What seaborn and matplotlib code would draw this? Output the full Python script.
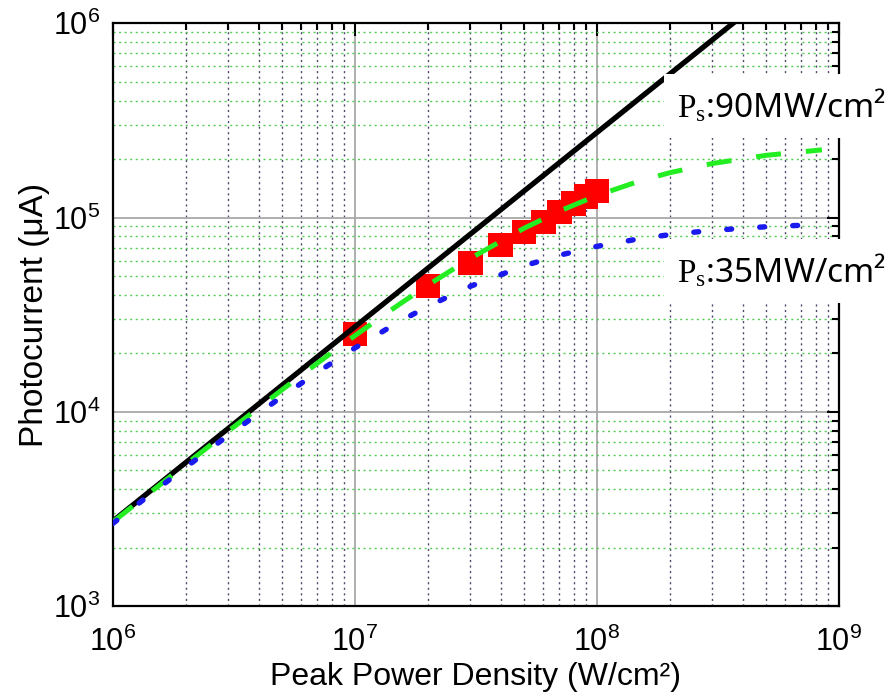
import numpy as np
import pandas as pd
import matplotlib
matplotlib.use("Agg")
import matplotlib.pyplot as plt
import matplotlib.ticker as mticker
import seaborn as sns

# ---- data ----
power_lin = [1e6, 1e9]
current_lin = [2740, 2.74e6]

power_model = [1e6, 1.5e6, 2e6, 3e6, 5e6, 7e6, 1e7, 1.5e7, 2e7, 3e7, 5e7, 7e7,
               1e8, 1.5e8, 2e8, 3e8, 5e8, 8.5e8]
current_ps90 = [2710, 4040, 5360, 7950, 12980, 17800, 24660, 35230, 44840, 61650,
                88070, 107900, 129800, 154100, 170100, 189700, 209000, 223000]
current_ps35 = [2664, 3940, 5180, 7570, 11990, 15980, 21310, 28770, 34870, 44260,
                56410, 63930, 71040, 77760, 81620, 85880, 89630, 92110]

meas_power = [1e7, 2e7, 3e7, 4e7, 5e7, 6e7, 7e7, 8e7, 9e7, 1e8]
meas_current = [2.52e4, 4.45e4, 5.85e4, 7.24e4, 8.4e4, 9.5e4, 1.07e5, 1.18e5, 1.28e5, 1.37e5]

label_90 = r"$\mathrm{P_s}$:90MW/cm²"
label_35 = r"$\mathrm{P_s}$:35MW/cm²"
xlabel = "Peak Power Density (W/cm²)"
ylabel = "Photocurrent (μA)"

# ---- style ----
sns.set_theme(style="white")
plt.rcParams["font.family"] = ["Liberation Sans", "DejaVu Sans"]
plt.rcParams["mathtext.fontset"] = "custom"
plt.rcParams["mathtext.rm"] = "Liberation Serif"
plt.rcParams["mathtext.it"] = "Liberation Serif:italic"
plt.rcParams["mathtext.sf"] = "Liberation Sans"
plt.rcParams["text.color"] = "black"
plt.rcParams["axes.labelcolor"] = "black"
plt.rcParams["xtick.color"] = "black"
plt.rcParams["ytick.color"] = "black"

fig = plt.figure(figsize=(8.93, 6.97), dpi=100)
ax = fig.add_axes([0.1265, 0.1306, 0.813, 0.836])
ax.set_xscale("log")
ax.set_yscale("log")

df_meas = pd.DataFrame({"P": meas_power, "I": meas_current})
sns.scatterplot(data=df_meas, x="P", y="I", ax=ax, marker="s", s=310,
                color="#ff0000", edgecolor="none", linewidth=0, zorder=3)

df_lin = pd.DataFrame({"P": power_lin, "I": current_lin})
sns.lineplot(data=df_lin, x="P", y="I", ax=ax, color="black", lw=3.8, zorder=4)

df_m = pd.DataFrame({"P": power_model, "I90": current_ps90, "I35": current_ps35})
sns.lineplot(data=df_m, x="P", y="I90", ax=ax, color="#22ee22", lw=3.6, zorder=5)
ax.lines[-1].set_linestyle((0, (5, 5)))
sns.lineplot(data=df_m, x="P", y="I35", ax=ax, color="#1a1aee", lw=3.9, zorder=6)
ax.lines[-1].set_linestyle((0, (0.9, 5.2)))
ax.lines[-1].set_dash_capstyle("round")

ax.set_xlim(1e6, 1e9)
ax.set_ylim(1e3, 1e6)

fmt = mticker.FuncFormatter(lambda v, p: r"$\mathsf{10^{%d}}$" % int(round(np.log10(v))))
for axis in (ax.xaxis, ax.yaxis):
    axis.set_major_locator(mticker.LogLocator(base=10, numticks=10))
    axis.set_minor_locator(mticker.LogLocator(base=10, subs=np.arange(2, 10), numticks=10))
    axis.set_major_formatter(fmt)
    axis.set_minor_formatter(mticker.NullFormatter())

ax.set_axisbelow(True)
ax.grid(which="major", color="#a8a8a8", lw=1.3, ls="-")
ax.xaxis.grid(which="minor", color="#4a4a6a", lw=1.0, ls=(0, (1.5, 2.5)))
ax.yaxis.grid(which="minor", color="#55cc55", lw=1.0, ls=(0, (1.5, 2.5)))

ax.tick_params(which="both", direction="in", top=True, right=True, color="black",
               width=1.5)
ax.tick_params(which="major", length=9, labelsize=22)
ax.tick_params(axis="x", which="major", pad=15)
ax.tick_params(axis="y", which="major", pad=9)
ax.tick_params(which="minor", length=5)
for s in ax.spines.values():
    s.set_color("black")
    s.set_linewidth(1.6)

ax.set_xlabel(xlabel, fontsize=23, labelpad=3)
ax.set_ylabel(ylabel, fontsize=24, labelpad=2)

box = dict(boxstyle="square,pad=0.4", fc="white", ec="none")
ax.text(0.777, 0.839, label_90, transform=ax.transAxes, fontsize=24,
        family=["Noto Sans", "DejaVu Sans"], va="baseline", ha="left",
        bbox=box, zorder=10, clip_on=False)
ax.text(0.777, 0.556, label_35, transform=ax.transAxes, fontsize=24,
        family=["Noto Sans", "DejaVu Sans"], va="baseline", ha="left",
        bbox=box, zorder=10, clip_on=False)

fig.savefig("out.png", dpi=100, facecolor="white")
